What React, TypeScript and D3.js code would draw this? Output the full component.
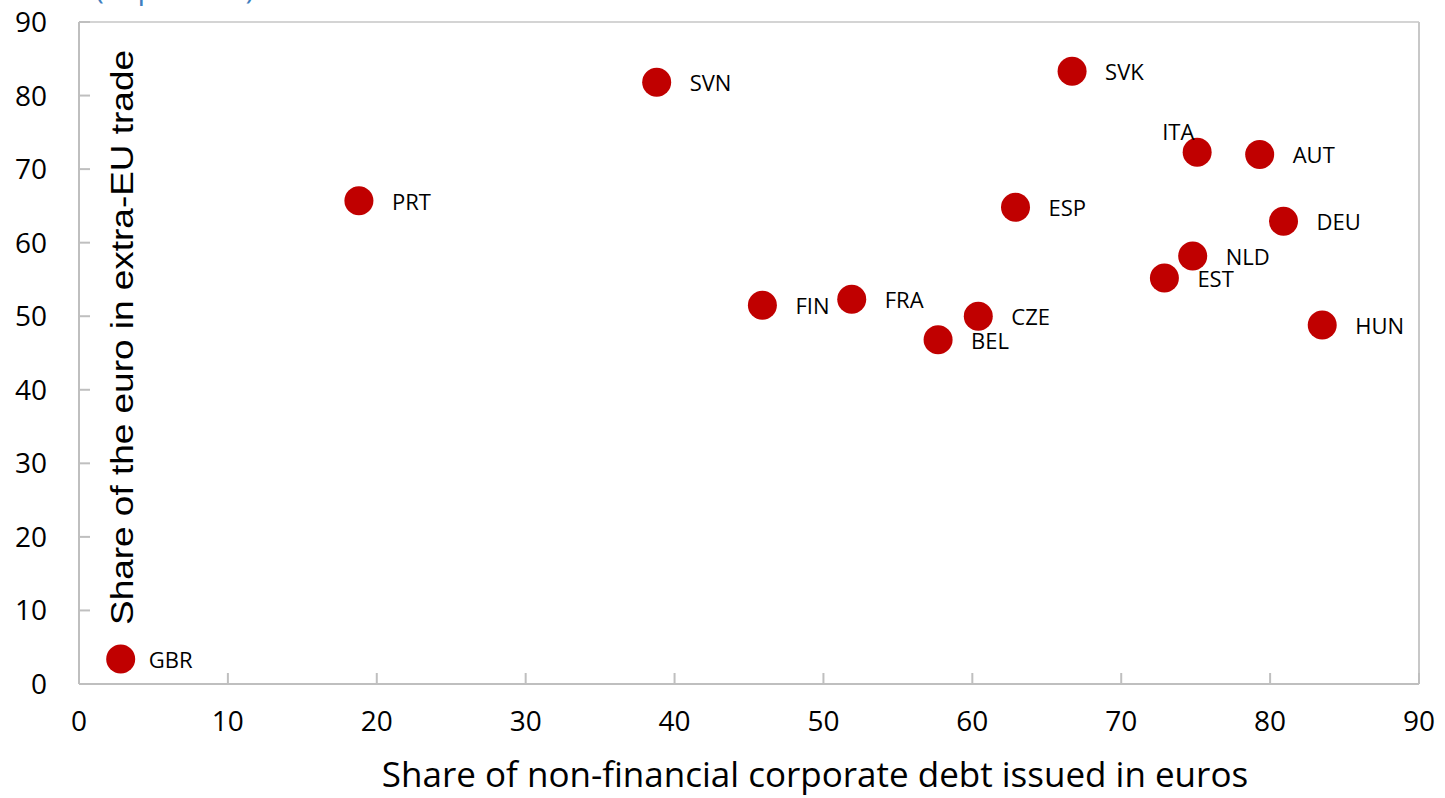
import React from 'react'
import * as d3 from 'd3'

// country codes with their (x, y) values
const countries = ['GBR', 'PRT', 'SVN', 'FIN', 'FRA', 'BEL', 'CZE', 'ESP', 'SVK', 'ITA', 'AUT', 'DEU', 'NLD', 'EST', 'HUN']
const debtInEuros = [2.8, 18.8, 38.8, 45.9, 51.9, 57.7, 60.4, 62.9, 66.7, 75.1, 79.3, 80.9, 74.8, 72.9, 83.5]
const tradeInEuros = [3.4, 65.7, 81.8, 51.5, 52.3, 46.8, 50.0, 64.8, 83.3, 72.3, 72.0, 62.9, 58.2, 55.2, 48.8]
const xTicks = [0, 10, 20, 30, 40, 50, 60, 70, 80, 90]
const yTicks = [0, 10, 20, 30, 40, 50, 60, 70, 80, 90]

const W = 1445
const H = 798
const margin = { left: 79, right: 26, top: 22, bottom: 114 }
const font = '"Open Sans", "Noto Sans", sans-serif'

const App: React.FC = () => {
  const x = d3.scaleLinear().domain([0, 90]).range([margin.left, W - margin.right])
  const y = d3.scaleLinear().domain([0, 90]).range([H - margin.bottom, margin.top])

  const points = countries.map((c, i) => ({ name: c, x: debtInEuros[i], y: tradeInEuros[i] }))

  // label placement: right of the dot, except ITA which sits above-left
  const labelPos = (name: string) => {
    if (name === 'ITA') return { dx: -35, dy: -12 }
    if (name === 'GBR') return { dx: 28, dy: 9 }
    return { dx: 33, dy: 9 }
  }

  const x0 = x(0)
  const x1 = x(90)
  const y0 = y(0)
  const y1 = y(90)

  return (
    <svg width={W} height={H} style={{ position: 'absolute', left: 0, top: 0, background: '#fff' }}>
      <text x={95} y={-1} fontFamily={font} fontSize={30} fill="#3F7FBF">(in percent)</text>

      {/* frame */}
      <line x1={x0} x2={x1} y1={y1} y2={y1} stroke="#d4d4d4" strokeWidth={2} />
      <line x1={x1} x2={x1} y1={y1} y2={y0} stroke="#c8c8c8" strokeWidth={2} />
      <line x1={x0} x2={x0} y1={y1} y2={y0} stroke="#bfbfbf" strokeWidth={2} />
      <line x1={x0} x2={x1} y1={y0} y2={y0} stroke="#bfbfbf" strokeWidth={2} />

      {xTicks.map((t) => (
        <g key={'x' + t}>
          <line x1={x(t)} x2={x(t)} y1={y0} y2={y0 - 11} stroke="#bfbfbf" strokeWidth={2} />
          <text x={x(t)} y={y0 + 47} textAnchor="middle" fontFamily={font} fontSize={28} fill="#000">{t}</text>
        </g>
      ))}
      {yTicks.map((t) => (
        <g key={'y' + t}>
          <line x1={x0} x2={x0 + 11} y1={y(t)} y2={y(t)} stroke="#bfbfbf" strokeWidth={2} />
          <text x={47} y={y(t) + 10} textAnchor="end" fontFamily={font} fontSize={28} fill="#000">{t}</text>
        </g>
      ))}

      <text x={815} y={787} textAnchor="middle" fontFamily={font} fontSize={35} fill="#000">
        Share of non-financial corporate debt issued in euros
      </text>
      <text
        transform={`translate(133, 625) rotate(-90)`}
        fontFamily='"Liberation Sans", Arial, sans-serif'
        fontSize={32}
        textLength={575}
        lengthAdjust="spacingAndGlyphs"
        fill="#000"
      >
        Share of the euro in extra-EU trade
      </text>

      {points.map((p) => {
        const lp = labelPos(p.name)
        return (
          <g key={p.name}>
            <circle cx={x(p.x)} cy={y(p.y)} r={14.5} fill="#C00000" />
            <text x={x(p.x) + lp.dx} y={y(p.y) + lp.dy} fontFamily={font} fontSize={22} fill="#000">
              {p.name}
            </text>
          </g>
        )
      })}
    </svg>
  )
}

export default App
